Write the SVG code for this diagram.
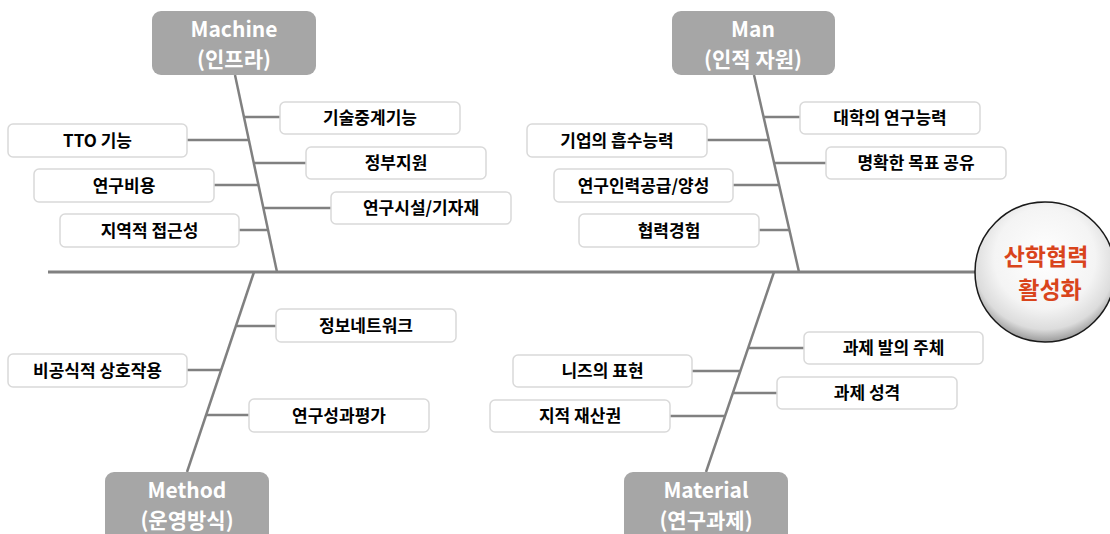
<svg xmlns="http://www.w3.org/2000/svg" width="1110" height="534" viewBox="0 0 1110 534">
<style>
.hdr{fill:#a6a6a6}
.ht{fill:#ffffff;font-family:"Noto Sans CJK KR","Noto Sans",sans-serif;font-weight:bold;font-size:21px;text-anchor:middle}
.bx{fill:#ffffff;stroke:#d9d9d9;stroke-width:1.5}
.bt{fill:#000000;font-family:"Noto Sans CJK KR","Noto Sans",sans-serif;font-weight:bold;font-size:17px;text-anchor:middle}
.bone{stroke:#808080;stroke-width:2.5;fill:none}
.spine{stroke:#808080;stroke-width:3;fill:none}
.ct{fill:#d9441c;font-family:"Noto Sans CJK KR","Noto Sans",sans-serif;font-weight:bold;font-size:23px;text-anchor:middle}
</style>
<defs>
<radialGradient id="g" cx="50%" cy="40%" r="60%">
<stop offset="0" stop-color="#ffffff"/>
<stop offset="0.6" stop-color="#f4f4f4"/>
<stop offset="0.85" stop-color="#dcdcdc"/>
<stop offset="1" stop-color="#9a9a9a"/>
</radialGradient>
</defs>
<g id="connectors">
<line class="spine" x1="48" y1="272" x2="976" y2="272"/>
<line class="bone" x1="235" y1="75" x2="277" y2="272"/>
<line class="bone" x1="754" y1="75" x2="799" y2="272"/>
<line class="bone" x1="254" y1="272" x2="187" y2="472"/>
<line class="bone" x1="774" y1="272" x2="706" y2="472"/>
<line class="bone" x1="244" y1="117" x2="280" y2="117"/>
<line class="bone" x1="187" y1="140" x2="249" y2="140"/>
<line class="bone" x1="254" y1="163" x2="306" y2="163"/>
<line class="bone" x1="214" y1="185" x2="258" y2="185"/>
<line class="bone" x1="263" y1="208" x2="331" y2="208"/>
<line class="bone" x1="239" y1="230" x2="268" y2="230"/>
<line class="bone" x1="764" y1="117" x2="800" y2="117"/>
<line class="bone" x1="707" y1="140" x2="769" y2="140"/>
<line class="bone" x1="774" y1="163" x2="826" y2="163"/>
<line class="bone" x1="733" y1="185" x2="779" y2="185"/>
<line class="bone" x1="759" y1="230" x2="789" y2="230"/>
<line class="bone" x1="237" y1="326" x2="276" y2="326"/>
<line class="bone" x1="187" y1="370" x2="221" y2="370"/>
<line class="bone" x1="206" y1="415" x2="249" y2="415"/>
<line class="bone" x1="748" y1="348" x2="804" y2="348"/>
<line class="bone" x1="692" y1="371" x2="740" y2="371"/>
<line class="bone" x1="733" y1="393" x2="777" y2="393"/>
<line class="bone" x1="670" y1="416" x2="725" y2="416"/>
</g>
<g id="machine"><rect class="hdr" x="152" y="11" width="164" height="64" rx="9"/><text class="ht" x="234" y="37">Machine</text><text class="ht" x="234" y="67">(인프라)</text></g>
<g id="man"><rect class="hdr" x="672" y="11" width="163" height="64" rx="9"/><text class="ht" x="753" y="37">Man</text><text class="ht" x="753" y="67">(인적 자원)</text></g>
<g id="method"><rect class="hdr" x="105" y="472" width="164" height="70" rx="9"/><text class="ht" x="187" y="498">Method</text><text class="ht" x="187" y="528">(운영방식)</text></g>
<g id="material"><rect class="hdr" x="624" y="472" width="164" height="70" rx="9"/><text class="ht" x="706" y="498">Material</text><text class="ht" x="706" y="528">(연구과제)</text></g>
<g id="n1"><rect class="bx" x="280" y="102" width="180" height="32" rx="5"/><text class="bt" x="370" y="124">기술중계기능</text></g>
<g id="n2"><rect class="bx" x="8" y="124" width="179" height="33" rx="5"/><text class="bt" x="97.5" y="147">TTO 기능</text></g>
<g id="n3"><rect class="bx" x="306" y="147" width="180" height="32" rx="5"/><text class="bt" x="396" y="169">정부지원</text></g>
<g id="n4"><rect class="bx" x="34" y="169" width="180" height="33" rx="5"/><text class="bt" x="124" y="192">연구비용</text></g>
<g id="n5"><rect class="bx" x="331" y="192" width="180" height="32" rx="5"/><text class="bt" x="421" y="214">연구시설/기자재</text></g>
<g id="n6"><rect class="bx" x="60" y="214" width="179" height="33" rx="5"/><text class="bt" x="149.5" y="237">지역적 접근성</text></g>
<g id="n7"><rect class="bx" x="800" y="102" width="180" height="32" rx="5"/><text class="bt" x="890" y="124">대학의 연구능력</text></g>
<g id="n8"><rect class="bx" x="527" y="124" width="180" height="33" rx="5"/><text class="bt" x="617" y="147">기업의 흡수능력</text></g>
<g id="n9"><rect class="bx" x="826" y="147" width="180" height="32" rx="5"/><text class="bt" x="916" y="169">명확한 목표 공유</text></g>
<g id="n10"><rect class="bx" x="554" y="169" width="179" height="33" rx="5"/><text class="bt" x="643.5" y="192">연구인력공급/양성</text></g>
<g id="n11"><rect class="bx" x="579" y="214" width="180" height="33" rx="5"/><text class="bt" x="669" y="237">협력경험</text></g>
<g id="n12"><rect class="bx" x="276" y="309" width="180" height="33" rx="5"/><text class="bt" x="366" y="332">정보네트워크</text></g>
<g id="n13"><rect class="bx" x="8" y="354" width="179" height="33" rx="5"/><text class="bt" x="97.5" y="377">비공식적 상호작용</text></g>
<g id="n14"><rect class="bx" x="249" y="399" width="180" height="33" rx="5"/><text class="bt" x="339" y="422">연구성과평가</text></g>
<g id="n15"><rect class="bx" x="804" y="332" width="179" height="32" rx="5"/><text class="bt" x="893.5" y="354">과제 발의 주체</text></g>
<g id="n16"><rect class="bx" x="513" y="355" width="179" height="32" rx="5"/><text class="bt" x="602.5" y="377">니즈의 표현</text></g>
<g id="n17"><rect class="bx" x="777" y="377" width="180" height="32" rx="5"/><text class="bt" x="867" y="399">과제 성격</text></g>
<g id="n18"><rect class="bx" x="490" y="400" width="180" height="32" rx="5"/><text class="bt" x="580" y="422">지적 재산권</text></g>
<g id="goal"><circle cx="1045" cy="272" r="70" fill="url(#g)" stroke="#1a1a1a" stroke-width="1.5"/><text class="ct" x="1046" y="265">산학협력</text><text class="ct" x="1050" y="298">활성화</text></g>
</svg>
